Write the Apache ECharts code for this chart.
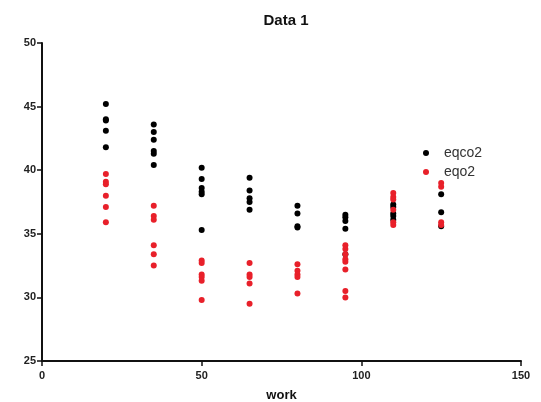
<!DOCTYPE html>
<html>
<head>
<meta charset="utf-8">
<script src="https://cdn.jsdelivr.net/npm/echarts@6/dist/echarts.min.js"></script>
<style>
  html, body { margin: 0; padding: 0; background: #fff; }
  #chart { width: 541px; height: 402px; }
</style>
</head>
<body>
<div id="chart"></div>
<script>
// Work levels at which the measurements were taken
const workLevels = [20, 35, 50, 65, 80, 95, 110, 125];

// eqco2 readings, one list per work level
const eqco2 = [
  [45.2, 44.0, 43.9, 43.1, 41.8],
  [43.6, 43.0, 42.4, 41.5, 41.3, 40.4],
  [40.2, 39.3, 38.6, 38.3, 38.1, 35.3],
  [39.4, 38.4, 37.8, 37.5, 36.9],
  [37.2, 36.6, 35.6, 35.5],
  [36.5, 36.3, 36.0, 35.4, 33.4],
  [37.3, 37.1, 36.6, 36.4, 36.1],
  [38.1, 36.7, 35.6]
];

// eqo2 readings, one list per work level
const eqo2 = [
  [39.7, 39.1, 38.9, 38.0, 37.1, 35.9],
  [37.2, 36.4, 36.1, 34.1, 33.4, 32.5],
  [32.9, 32.7, 31.8, 31.6, 31.3, 29.8],
  [32.7, 31.8, 31.6, 31.1, 29.5],
  [32.6, 32.1, 31.8, 31.6, 30.3],
  [34.1, 33.8, 33.4, 33.0, 32.8, 32.2, 30.5, 30.0],
  [38.2, 37.9, 37.7, 36.9, 35.9, 35.7],
  [39.0, 38.7, 35.9, 35.7]
];

const xTicks = { min: 0, max: 150, interval: 50 };
const yTicks = { min: 25, max: 50, interval: 5 };

function toPairs(groups) {
  const out = [];
  groups.forEach((vals, i) => vals.forEach(v => out.push([workLevels[i], v])));
  return out;
}

const chart = echarts.init(document.getElementById('chart'));
const fontFamily = 'Liberation Sans, Arial, sans-serif';
const axisFont = { fontFamily, fontWeight: 'bold', fontSize: 11, color: '#222' };

chart.setOption({
  animation: false,
  title: {
    text: 'Data 1',
    left: 281,
    textAlign: 'center',
    top: 8,
    textStyle: { fontFamily, fontSize: 15, fontWeight: 'bold', color: '#111' }
  },
  legend: {
    orient: 'vertical',
    left: 423,
    top: 146,
    padding: 0,
    itemWidth: 6,
    itemHeight: 6,
    itemGap: 5,
    icon: 'circle',
    textStyle: { fontFamily, fontSize: 14, color: '#333', padding: [0, 0, 0, 10] },
    data: ['eqco2', 'eqo2']
  },
  grid: { left: 42, right: 20, top: 43, bottom: 41, containLabel: false, outerBoundsMode: 'none' },
  xAxis: {
    type: 'value',
    min: xTicks.min, max: xTicks.max, interval: xTicks.interval,
    name: 'work',
    nameLocation: 'middle',
    nameGap: 28,
    nameTextStyle: { fontFamily, fontWeight: 'bold', fontSize: 13, color: '#111' },
    axisLine: { onZero: false, lineStyle: { color: '#111', width: 2 } },
    axisTick: { show: true, length: 5, lineStyle: { color: '#111', width: 1.5 } },
    axisLabel: Object.assign({ margin: 9 }, axisFont),
    splitLine: { show: false }
  },
  yAxis: {
    type: 'value',
    min: yTicks.min, max: yTicks.max, interval: yTicks.interval,
    axisLine: { show: true, onZero: false, lineStyle: { color: '#111', width: 2 } },
    axisTick: { show: true, length: 5, lineStyle: { color: '#111', width: 1.5 } },
    axisLabel: Object.assign({ margin: 6 }, axisFont),
    splitLine: { show: false }
  },
  series: [
    {
      name: 'eqco2',
      type: 'scatter',
      symbolSize: 6,
      itemStyle: { color: '#000', opacity: 1 },
      data: toPairs(eqco2)
    },
    {
      name: 'eqo2',
      type: 'scatter',
      symbolSize: 6,
      itemStyle: { color: '#e8202a', opacity: 1 },
      data: toPairs(eqo2)
    }
  ]
});
</script>
</body>
</html>
